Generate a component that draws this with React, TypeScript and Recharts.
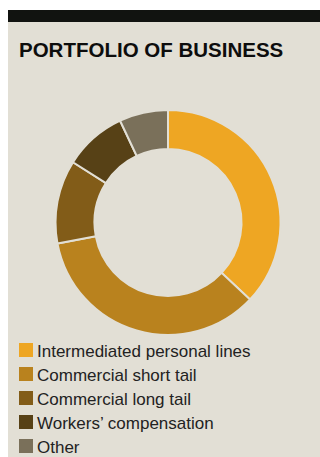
import React from "react"
import { PieChart, Pie, Cell, Legend } from "recharts"

const categories = [
  "Intermediated personal lines",
  "Commercial short tail",
  "Commercial long tail",
  "Workers\u2019 compensation",
  "Other",
]
const shares = [37, 35, 12, 9, 7]
const colors = ["#eea623", "#b9821e", "#825c18", "#574116", "#7a705a"]

const data = categories.map((name, i) => ({ name, value: shares[i] }))

const BG = "#e2dfd5"

// recharts sorts legend items by name, put them back in data order
const LegendList = ({ payload }: any) => {
  const items = [...(payload || [])].sort(
    (a: any, b: any) => categories.indexOf(a.value) - categories.indexOf(b.value)
  )
  return (
    <ul style={{ listStyle: "none", margin: 0, padding: 0 }}>
      {items.map((entry: any) => (
        <li
          key={entry.value}
          style={{ fontSize: 17, lineHeight: "24px", color: "#222", whiteSpace: "nowrap" }}
        >
          <span
            style={{
              display: "inline-block",
              width: 14,
              height: 14,
              background: entry.color,
              marginRight: 4,
            }}
          />
          {entry.value}
        </li>
      ))}
    </ul>
  )
}

const App = (): React.ReactElement => {
  return (
    <div
      style={{
        position: "absolute",
        left: 8,
        top: 10,
        width: 312,
        height: 447,
        background: BG,
        fontFamily: "'Liberation Sans', Arial, sans-serif",
      }}
    >
      <div style={{ height: 12, background: "#111310" }} />
      <div
        style={{
          position: "absolute",
          left: 11,
          top: 30,
          fontSize: 20.5,
          lineHeight: 1,
          fontWeight: 700,
          color: "#0d0d0d",
          whiteSpace: "nowrap",
        }}
      >
        PORTFOLIO OF BUSINESS
      </div>
      <div style={{ position: "absolute", left: 0, top: 0 }}>
        <PieChart width={312} height={447} margin={{ top: 0, right: 0, bottom: 0, left: 0 }}>
          <Pie
            data={data}
            dataKey="value"
            nameKey="name"
            cx={160}
            cy={212.5}
            innerRadius={73.5}
            outerRadius={112.5}
            startAngle={90}
            endAngle={-270}
            stroke={BG}
            strokeWidth={2}
            isAnimationActive={false}
          >
            {data.map((d, i) => (
              <Cell key={d.name} fill={colors[i]} />
            ))}
          </Pie>
          <Legend
            layout="horizontal"
            verticalAlign="bottom"
            content={<LegendList />}
            wrapperStyle={{ top: 330, left: 11, bottom: "auto", width: "auto" }}
          />
        </PieChart>
      </div>
    </div>
  )
}

export default App
